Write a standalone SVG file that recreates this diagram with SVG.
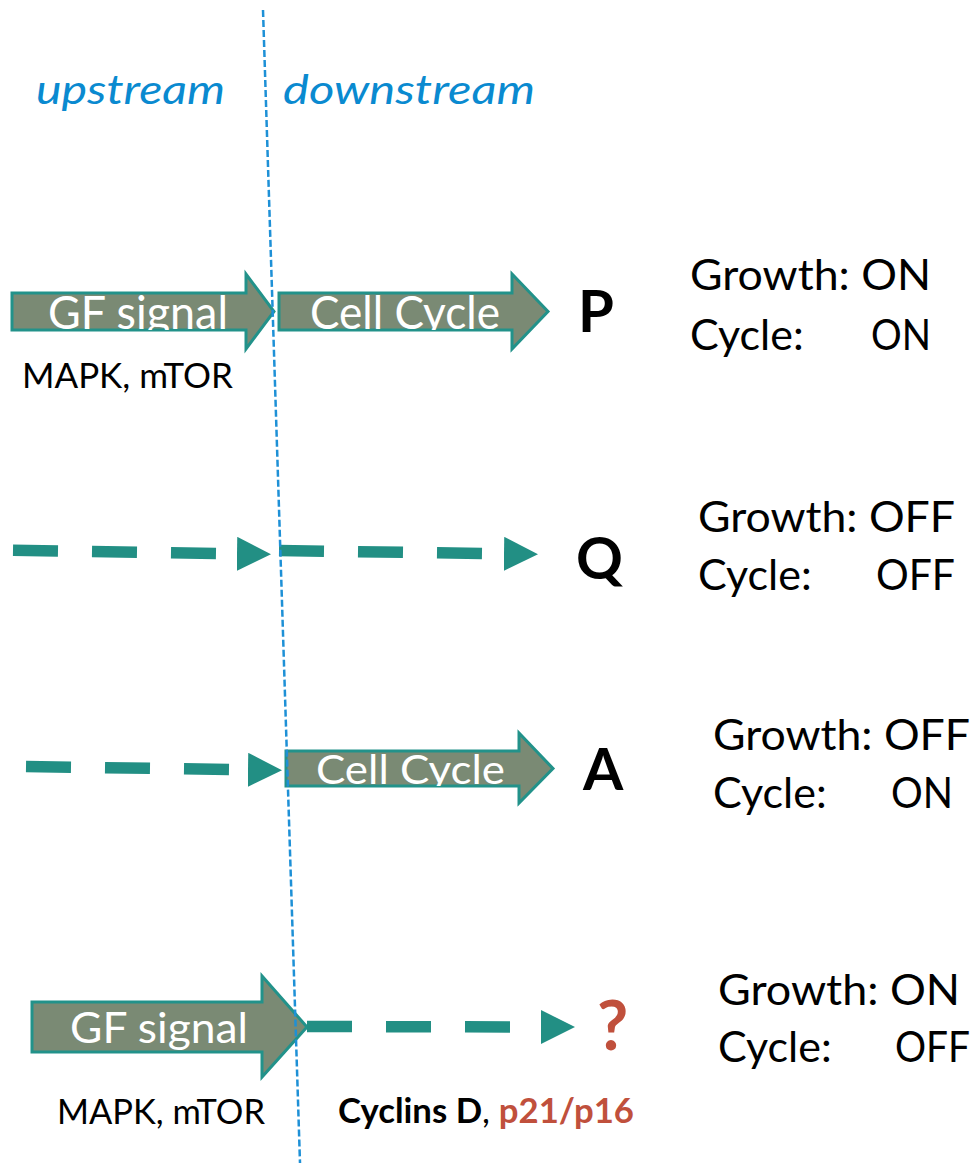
<svg xmlns="http://www.w3.org/2000/svg" width="976" height="1163" viewBox="0 0 976 1163">
<style>
.arrow{fill:#7A8A74;stroke:#22928A;stroke-width:3;stroke-linejoin:miter}
.atext{fill:#FFFFFF;font-family:Lato,"Liberation Sans",sans-serif}
.dash{fill:none;stroke:#228F84;stroke-width:11.5;stroke-dasharray:45 34}
.lbl{fill:#000;font-family:Lato,"Liberation Sans",sans-serif}
.big{fill:#000;font-family:Lato,"Liberation Sans",sans-serif;font-weight:bold;font-size:58px}
.state{fill:#000;font-family:Lato,"Liberation Sans",sans-serif;font-size:43px}
.hdr{fill:#0A8AD0;font-family:Lato,"Liberation Sans",sans-serif;font-style:italic;font-size:40px}
.red{fill:#C0503C}
</style>
<defs>
<marker id="head" markerUnits="userSpaceOnUse" markerWidth="34" markerHeight="34" refX="0" refY="17" orient="auto" viewBox="0 0 34 34">
<path d="M0,0 L34,17 L0,34 Z" fill="#228F84"/>
</marker>
<clipPath id="c1"><rect x="12" y="293" width="240" height="37"/></clipPath>
<clipPath id="c2"><rect x="279" y="293" width="240" height="37"/></clipPath>
<clipPath id="c3"><rect x="286" y="751" width="240" height="35"/></clipPath>
<clipPath id="c4"><rect x="32" y="1002" width="240" height="50"/></clipPath>
</defs>

<g id="headers">
<text class="hdr" x="36" y="104" textLength="189" lengthAdjust="spacingAndGlyphs">upstream</text>
<text class="hdr" x="283" y="104" textLength="252" lengthAdjust="spacingAndGlyphs">downstream</text>
</g>

<g id="row-p">
<g id="gf-signal-1">
<polygon class="arrow" points="12,293 246,293 246,274 274,311.5 246,349 246,330 12,330"/>
<text class="atext" x="48" y="329" font-size="46" textLength="180" lengthAdjust="spacingAndGlyphs" clip-path="url(#c1)">GF signal</text>
</g>
<g id="cell-cycle-1">
<polygon class="arrow" points="279,293 512,293 512,274 548,311.5 512,349 512,330 279,330"/>
<text class="atext" x="310" y="329" font-size="46" textLength="190" lengthAdjust="spacingAndGlyphs" clip-path="url(#c2)">Cell Cycle</text>
</g>
<text class="lbl" x="22" y="388" font-size="35" textLength="211" lengthAdjust="spacingAndGlyphs">MAPK, mTOR</text>
<text class="big" x="578" y="332">P</text>
<g id="state-p">
<text class="state" x="690" y="290" textLength="241" lengthAdjust="spacingAndGlyphs">Growth: ON</text>
<text class="state" x="690" y="350">Cycle:</text>
<text class="state" x="871" y="350" textLength="60" lengthAdjust="spacingAndGlyphs">ON</text>
</g>
</g>

<g id="row-q">
<text class="big" x="576" y="579">Q</text>
<g id="state-q">
<text class="state" x="698" y="532" textLength="257" lengthAdjust="spacingAndGlyphs">Growth: OFF</text>
<text class="state" x="698" y="590">Cycle:</text>
<text class="state" x="876" y="590" textLength="79" lengthAdjust="spacingAndGlyphs">OFF</text>
</g>
</g>

<g id="row-a">
<g id="cell-cycle-3">
<polygon class="arrow" points="286,751 519,751 519,733 553,768.5 519,803 519,786 286,786"/>
<text class="atext" x="316" y="784" font-size="41" textLength="189" lengthAdjust="spacingAndGlyphs" clip-path="url(#c3)">Cell Cycle</text>
</g>
<text class="big" x="583" y="790">A</text>
<g id="state-a">
<text class="state" x="713" y="750" textLength="257" lengthAdjust="spacingAndGlyphs">Growth: OFF</text>
<text class="state" x="713" y="808">Cycle:</text>
<text class="state" x="891" y="808" textLength="62" lengthAdjust="spacingAndGlyphs">ON</text>
</g>
</g>

<g id="row-q2">
<g id="gf-signal-4">
<polygon class="arrow" points="32,1002 262,1002 262,976 307,1027 262,1077 262,1052 32,1052"/>
<text class="atext" x="70" y="1043" font-size="43" textLength="178" lengthAdjust="spacingAndGlyphs" clip-path="url(#c4)">GF signal</text>
</g>
<text class="big red" x="597" y="1050" style="font-size:68px">?</text>
<text class="lbl" x="338" y="1123" font-size="35" font-weight="bold" textLength="296" lengthAdjust="spacingAndGlyphs"><tspan>Cyclins D</tspan><tspan font-weight="normal">, </tspan><tspan class="red">p21/p16</tspan></text>
<text class="lbl" x="57" y="1124" font-size="35" textLength="208" lengthAdjust="spacingAndGlyphs">MAPK, mTOR</text>
<g id="state-q2">
<text class="state" x="718" y="1005" textLength="242" lengthAdjust="spacingAndGlyphs">Growth: ON</text>
<text class="state" x="718" y="1062">Cycle:</text>
<text class="state" x="895" y="1062" textLength="75" lengthAdjust="spacingAndGlyphs">OFF</text>
</g>
</g>

<g id="connectors">
<path class="dash" d="M13,550.3 L237,553.8" marker-end="url(#head)"/>
<path class="dash" d="M279,550.5 L504,553.8" marker-end="url(#head)"/>
<path class="dash" d="M26,766.5 L248,769.8" marker-end="url(#head)"/>
<path class="dash" d="M307,1026.5 L541,1027" marker-end="url(#head)"/>
</g>

<g id="divider">
<line x1="263" y1="10" x2="300" y2="1163" stroke="#1E90D6" stroke-width="2.5" stroke-dasharray="7 3"/>
</g>
</svg>
